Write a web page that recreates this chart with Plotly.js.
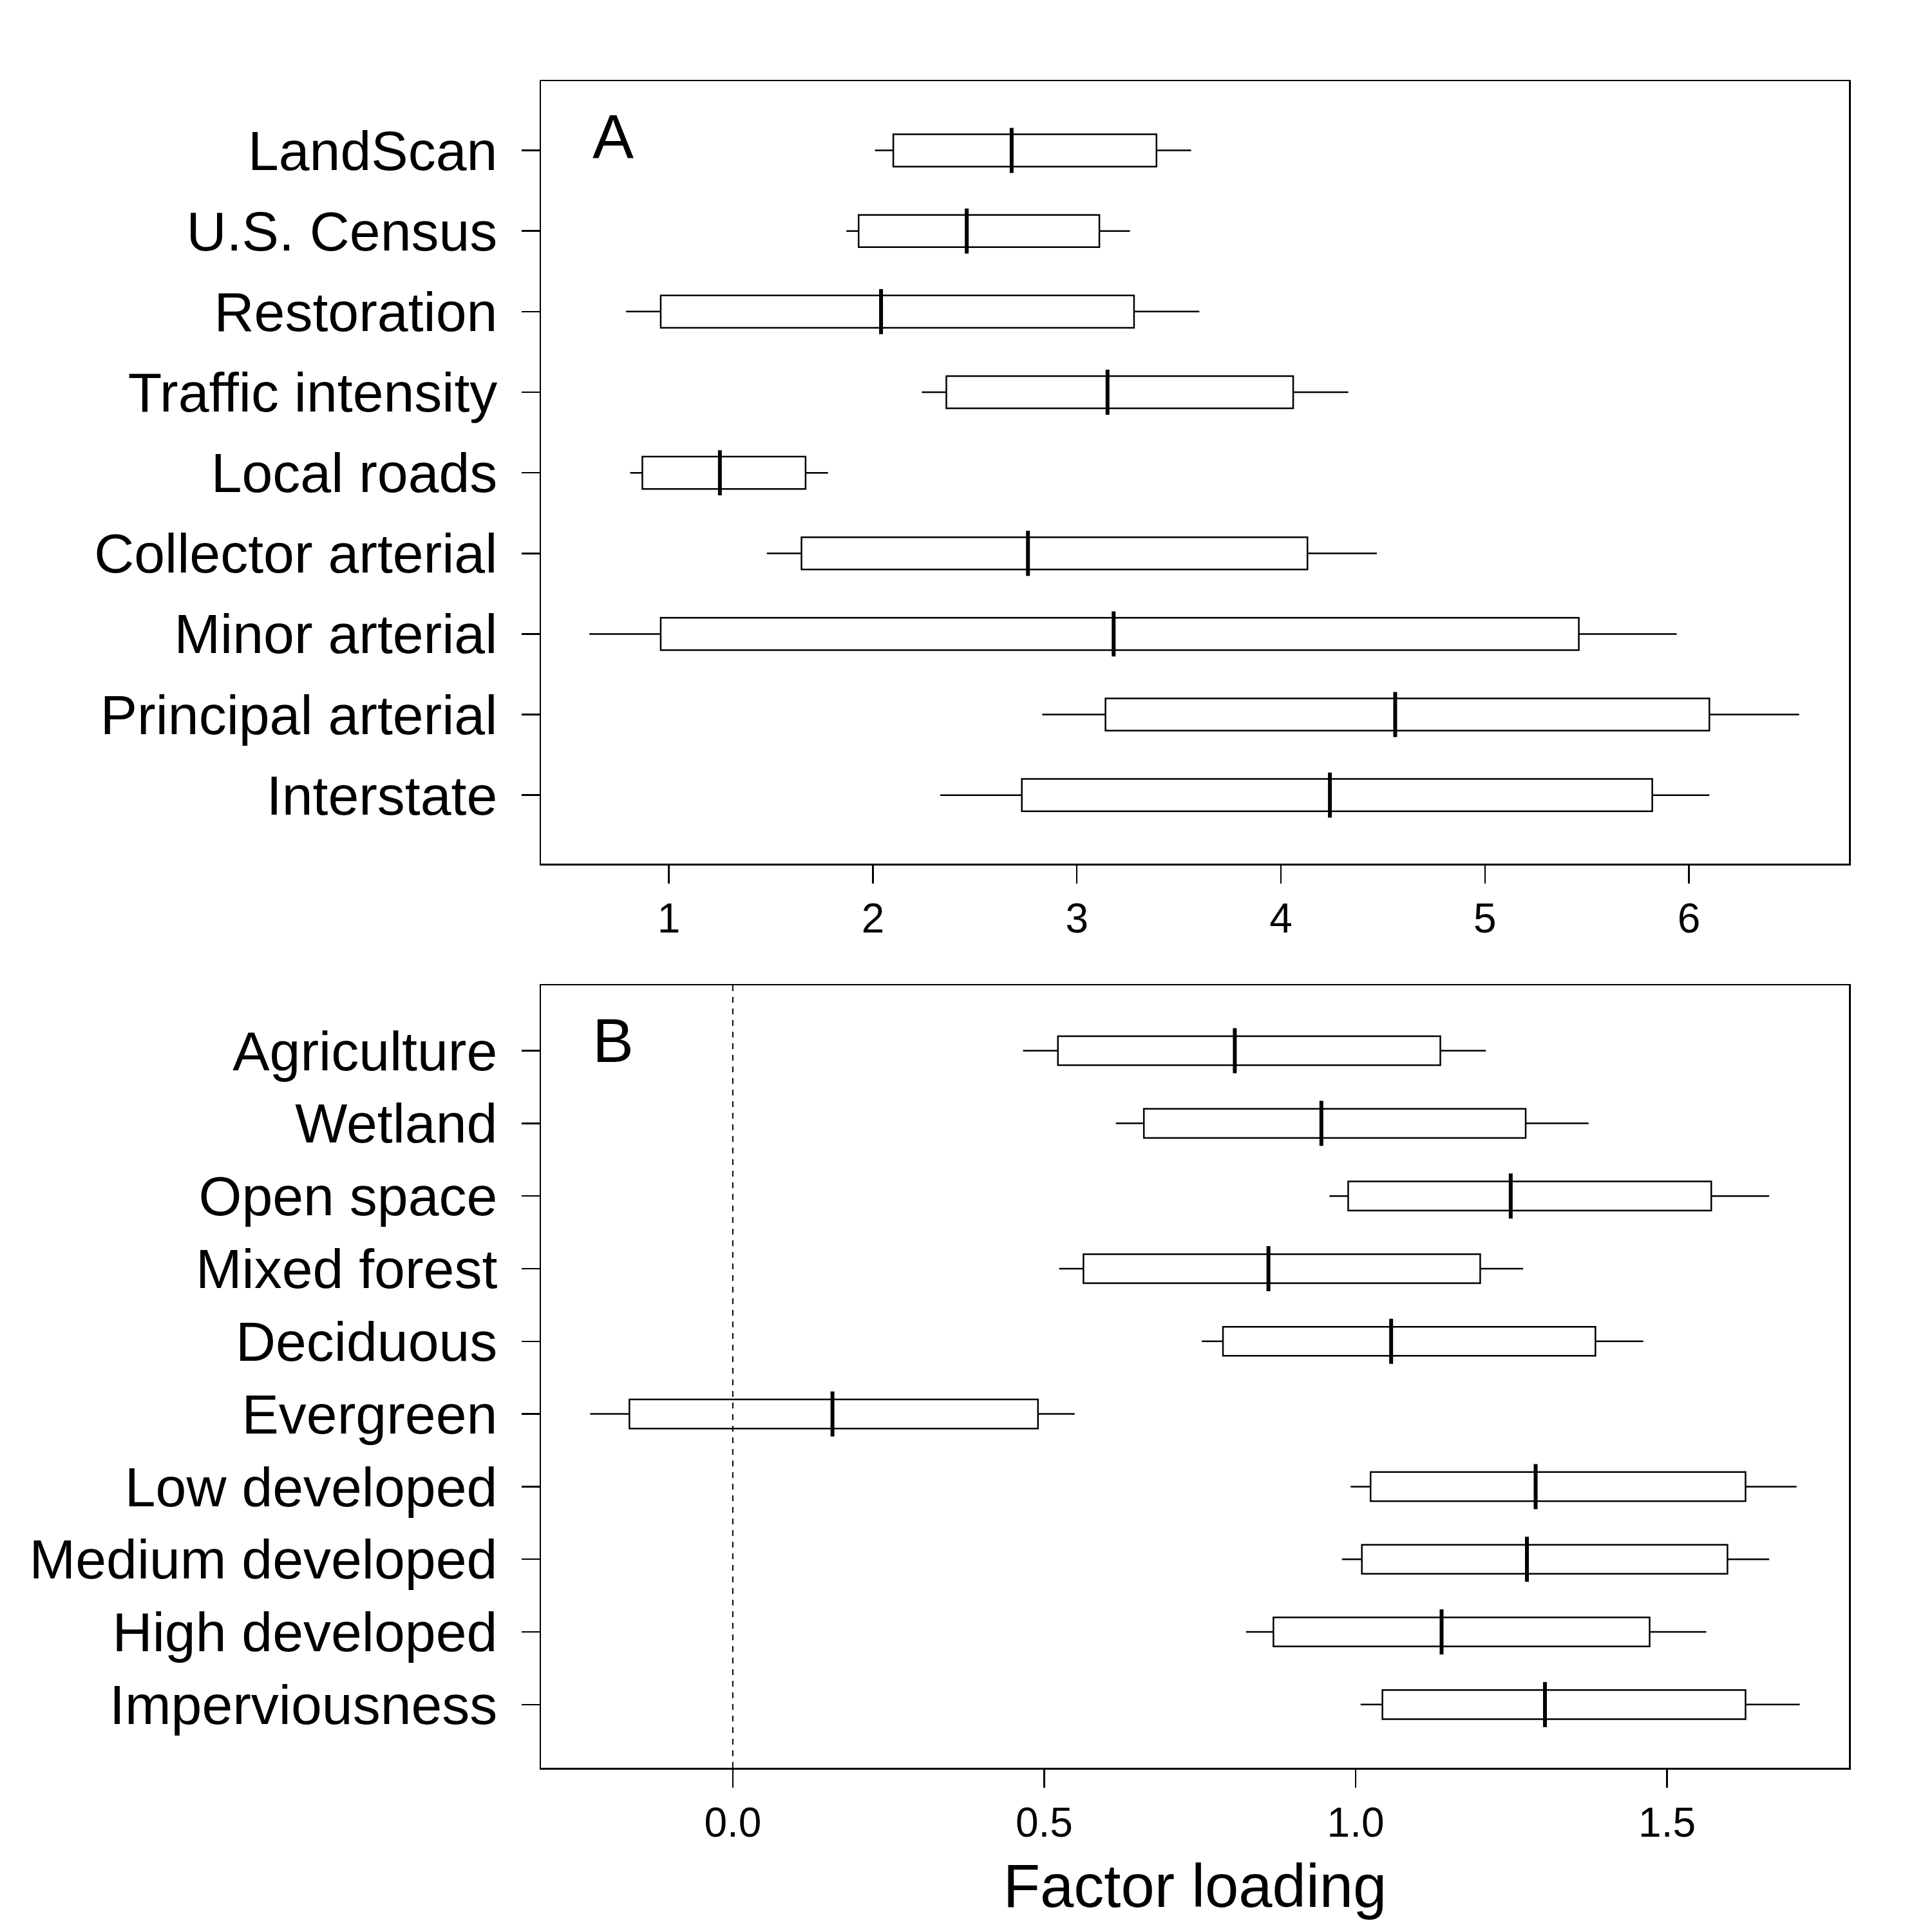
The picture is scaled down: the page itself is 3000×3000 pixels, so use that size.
<!DOCTYPE html>
<html>
<head>
<script src="https://cdn.plot.ly/plotly-3.0.1.min.js"></script>
<style>body{margin:0;background:#fff}</style>
</head>
<body>
<div id="chart" style="width:3000px;height:3000px"></div>
<script>
// panel A
var catsA = ['LandScan', 'U.S. Census', 'Restoration', 'Traffic intensity', 'Local roads',
  'Collector arterial', 'Minor arterial', 'Principal arterial', 'Interstate'];
var loA  = [2.01, 1.87, 0.79, 2.24, 0.81, 1.48, 0.61, 2.83, 2.33];
var q1A  = [2.10, 1.93, 0.96, 2.36, 0.87, 1.65, 0.96, 3.14, 2.73];
var medA = [2.68, 2.46, 2.04, 3.15, 1.25, 2.76, 3.18, 4.56, 4.24];
var q3A  = [3.39, 3.11, 3.28, 4.06, 1.67, 4.13, 5.46, 6.10, 5.82];
var hiA  = [3.56, 3.26, 3.60, 4.33, 1.78, 4.47, 5.94, 6.54, 6.10];

// panel B
var catsB = ['Agriculture', 'Wetland', 'Open space', 'Mixed forest', 'Deciduous', 'Evergreen',
  'Low developed', 'Medium developed', 'High developed', 'Imperviousness'];
var loB  = [0.466, 0.615, 0.958, 0.524, 0.753, -0.229, 0.992, 0.978, 0.824, 1.008];
var q1B  = [0.522, 0.660, 0.988, 0.563, 0.787, -0.166, 1.024, 1.010, 0.868, 1.043];
var medB = [0.806, 0.945, 1.249, 0.860, 1.057, 0.160, 1.289, 1.275, 1.138, 1.304];
var q3B  = [1.136, 1.273, 1.571, 1.200, 1.385, 0.490, 1.626, 1.597, 1.472, 1.626];
var hiB  = [1.209, 1.374, 1.664, 1.269, 1.462, 0.549, 1.708, 1.664, 1.563, 1.713];

function boxTrace(cats, lo, q1, med, q3, hi, xa, ya) {
  return {
    type: 'box', orientation: 'h', y: cats,
    lowerfence: lo, q1: q1, median: med, q3: q3, upperfence: hi,
    xaxis: xa, yaxis: ya, width: 0.4, whiskerwidth: 0,
    fillcolor: '#fff', line: {color: '#000', width: 2.5},
    hoverinfo: 'skip', showlegend: false
  };
}

// thick median bars drawn on top
function medTrace(cats, med, xa, ya) {
  return {
    type: 'scatter', mode: 'markers', x: med, y: cats, xaxis: xa, yaxis: ya,
    marker: {symbol: 'line-ns', size: 50, line: {color: '#000', width: 6}},
    hoverinfo: 'skip', showlegend: false
  };
}

var fnt = 'Liberation Sans, Arial, sans-serif';
var yBase = {
  type: 'category', showline: true, mirror: true, linecolor: '#000', linewidth: 2.5,
  ticks: 'outside', ticklen: 28, tickwidth: 2.5, tickcolor: '#000',
  showgrid: false, zeroline: false, ticklabelstandoff: 20,
  tickfont: {family: fnt, size: 86, color: '#000'}
};
var xBase = {
  showline: true, mirror: true, linecolor: '#000', linewidth: 2.5,
  ticks: 'outside', ticklen: 28, tickwidth: 2.5, tickcolor: '#000',
  showgrid: false, zeroline: false, domain: [0.280, 0.957],
  tickfont: {family: fnt, size: 64, color: '#000'}
};

var layout = {
  width: 3000, height: 3000, paper_bgcolor: '#fff', plot_bgcolor: '#fff',
  margin: {l: 0, r: 0, t: 0, b: 0},
  font: {family: fnt, color: '#000'},
  xaxis: Object.assign({}, xBase, {anchor: 'y', range: [0.373, 6.784], tickvals: [1, 2, 3, 4, 5, 6]}),
  yaxis: Object.assign({}, yBase, {domain: [0.553, 0.958], categoryarray: catsA, range: [8.85, -0.86]}),
  xaxis2: Object.assign({}, xBase, {anchor: 'y2', range: [-0.308, 1.792], tickvals: [0, 0.5, 1, 1.5],
    tickformat: '.1f',
    title: {text: 'Factor loading', font: {family: fnt, size: 94, color: '#000'}, standoff: 30}}),
  yaxis2: Object.assign({}, yBase, {domain: [0.085, 0.490], categoryarray: catsB, range: [9.87, -0.9]}),
  shapes: [{type: 'line', xref: 'x2', yref: 'y2 domain', x0: 0, x1: 0, y0: 0, y1: 1,
    line: {color: '#000', width: 2, dash: 'dash'}}],
  annotations: [
    {text: 'A', xref: 'paper', yref: 'paper', x: 0.306, y: 0.948, xanchor: 'left', yanchor: 'top',
      showarrow: false, font: {family: fnt, size: 96}},
    {text: 'B', xref: 'paper', yref: 'paper', x: 0.306, y: 0.480, xanchor: 'left', yanchor: 'top',
      showarrow: false, font: {family: fnt, size: 96}}
  ]
};

Plotly.newPlot('chart', [
  boxTrace(catsA, loA, q1A, medA, q3A, hiA, 'x', 'y'),
  boxTrace(catsB, loB, q1B, medB, q3B, hiB, 'x2', 'y2'),
  medTrace(catsA, medA, 'x', 'y'),
  medTrace(catsB, medB, 'x2', 'y2')
], layout, {staticPlot: true});
</script>
</body>
</html>
